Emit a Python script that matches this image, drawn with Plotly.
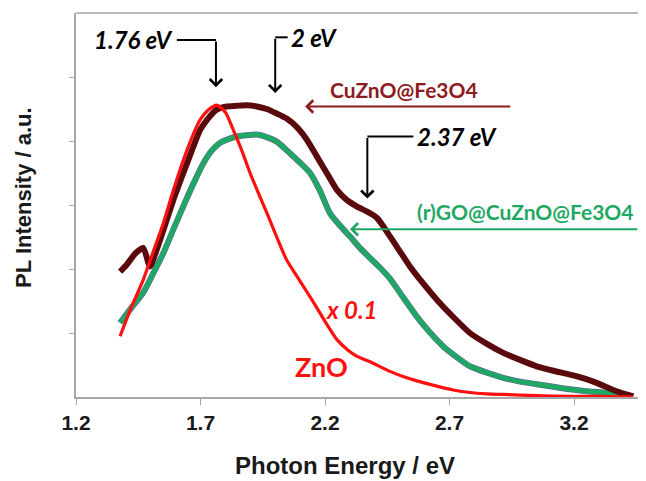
import plotly.graph_objects as go

# ---- data ----
energy_zno = [1.377, 1.42, 1.470, 1.510, 1.551, 1.590, 1.631, 1.665, 1.698, 1.730, 1.765, 1.800,
              1.832, 1.866, 1.899, 1.932, 1.966, 2.006, 2.046, 2.080, 2.113, 2.147, 2.180, 2.213,
              2.247, 2.290, 2.327, 2.381, 2.461, 2.513, 2.580, 2.649, 2.715, 2.782, 2.850,
              2.915, 3.050, 3.184, 3.300, 3.437]
zno = [0.95, 1.38, 1.83, 2.27, 2.72, 3.22, 3.70, 4.05, 4.33, 4.48, 4.56, 4.45,
       4.17, 3.85, 3.50, 3.19, 2.88, 2.50, 2.14, 1.93, 1.73, 1.52, 1.31, 1.10,
       0.90, 0.74, 0.64, 0.55, 0.40, 0.32, 0.24, 0.17, 0.11, 0.07, 0.05,
       0.04, 0.02, 0.01, 0.01, 0.0]

energy_cu = [1.377, 1.40, 1.44, 1.470, 1.497, 1.524, 1.551, 1.591, 1.631, 1.671, 1.698, 1.730,
             1.765, 1.805, 1.845, 1.885, 1.926, 1.966, 2.006, 2.046, 2.086, 2.127, 2.167,
             2.207, 2.247, 2.287, 2.327, 2.367, 2.408, 2.461, 2.500, 2.541, 2.595, 2.649,
             2.715, 2.782, 2.850, 2.916, 2.983, 3.050, 3.117, 3.184, 3.240, 3.291, 3.371, 3.438]
cu = [1.96, 2.05, 2.25, 2.33, 2.04, 2.30, 2.61, 3.08, 3.50, 3.91, 4.17, 4.35,
      4.49, 4.54, 4.55, 4.56, 4.54, 4.50, 4.43, 4.35, 4.22, 4.02, 3.76,
      3.50, 3.24, 3.08, 2.98, 2.90, 2.80, 2.51, 2.28, 2.04, 1.77, 1.52,
      1.25, 1.00, 0.83, 0.69, 0.58, 0.48, 0.41, 0.35, 0.29, 0.22, 0.09, 0.01]

energy_go = [1.377, 1.420, 1.470, 1.510, 1.551, 1.591, 1.631, 1.671, 1.711, 1.745, 1.778, 1.812,
             1.845, 1.885, 1.926, 1.966, 2.006, 2.059, 2.100, 2.140, 2.180, 2.220, 2.260,
             2.300, 2.340, 2.381, 2.421, 2.461, 2.515, 2.568, 2.621, 2.675, 2.730, 2.782,
             2.850, 2.916, 2.983, 3.050, 3.117, 3.184, 3.250, 3.318, 3.380, 3.425]
go_vals = [1.16, 1.38, 1.63, 1.93, 2.25, 2.62, 2.98, 3.33, 3.65, 3.85, 3.97, 4.03,
           4.07, 4.09, 4.10, 4.06, 3.99, 3.81, 3.66, 3.50, 3.22, 2.87, 2.68,
           2.51, 2.33, 2.17, 2.02, 1.85, 1.55, 1.26, 1.01, 0.79, 0.62, 0.48,
           0.38, 0.30, 0.24, 0.20, 0.16, 0.12, 0.09, 0.07, 0.04, 0.01]

x_ticks = [1.2, 1.7, 2.2, 2.7, 3.2]
y_ticks = [1, 2, 3, 4, 5]

BROWN = "#5a0a0c"
GREEN = "#1fa864"
RED = "#ff1010"
PURPLE = "#6f5aa8"

fig = go.Figure()
fig.add_trace(go.Scatter(x=energy_go, y=go_vals, mode="lines",
                         line=dict(color=PURPLE, width=6, shape="spline", smoothing=0.6),
                         showlegend=False, hoverinfo="skip"))
fig.add_trace(go.Scatter(x=energy_go, y=go_vals, mode="lines", name="(r)GO@CuZnO@Fe3O4",
                         line=dict(color=GREEN, width=5, shape="spline", smoothing=0.6)))
fig.add_trace(go.Scatter(x=energy_cu, y=cu, mode="lines", name="CuZnO@Fe3O4",
                         line=dict(color=BROWN, width=6, shape="spline", smoothing=0.6)))
fig.add_trace(go.Scatter(x=energy_zno, y=zno, mode="lines", name="ZnO",
                         line=dict(color=RED, width=3.2, shape="spline", smoothing=0.6)))

AX = "#a6a6a6"
# the page body adds an 8 px offset, so the figure is 8 px smaller than the window
fig.update_layout(
    width=638, height=473,
    margin=dict(l=68, r=0, t=5, b=84),
    paper_bgcolor="white", plot_bgcolor="white",
    showlegend=False,
    xaxis=dict(range=[1.2, 3.489], tickvals=x_ticks, ticktext=[f"{v:.1f}" for v in x_ticks],
               showline=True, linecolor=AX, linewidth=1.5, ticks="outside", ticklen=6,
               tickcolor=AX, showgrid=False, zeroline=False,
               tickfont=dict(family="Liberation Sans", size=21, color="#1a1a1a", weight="bold")),
    yaxis=dict(range=[0, 6], tickvals=y_ticks, showticklabels=False,
               showline=True, linecolor=AX, linewidth=1.5, ticks="outside", ticklen=5,
               tickcolor=AX, showgrid=False, zeroline=False),
)

# top border of plot area
fig.add_shape(type="line", xref="paper", yref="paper", x0=0, x1=1, y0=1, y1=1,
              line=dict(color=AX, width=1.5))

LBL = dict(family="Lato", weight="bold", style="italic", color="black", size=24)

def down_arrow(x, y_top, y_tip, color="black"):
    fig.add_annotation(x=x, y=y_tip, ax=x, ay=y_top, xref="x", yref="y",
                       axref="x", ayref="y", text="", showarrow=True, arrowhead=4,
                       arrowsize=1.2, arrowwidth=2, arrowcolor=color)

def hline(x0, x1, y, color="black"):
    fig.add_shape(type="line", xref="x", yref="y", x0=x0, x1=x1, y0=y, y1=y,
                  line=dict(color=color, width=2))

# 1.76 eV
hline(1.605, 1.762, 5.58)
down_arrow(1.762, 5.58, 4.84)
fig.add_annotation(x=1.598, y=5.58, xref="x", yref="y", text="1.76 eV", showarrow=False,
                   xanchor="right", yanchor="middle", font=LBL)
# 2 eV
hline(2.0, 2.05, 5.62)
down_arrow(2.0, 5.62, 4.75)
fig.add_annotation(x=2.055, y=5.62, xref="x", yref="y", text="2 eV", showarrow=False,
                   xanchor="left", yanchor="middle", font=LBL)
# 2.37 eV
hline(2.37, 2.555, 4.07)
down_arrow(2.37, 4.07, 3.1)
fig.add_annotation(x=2.563, y=4.07, xref="x", yref="y", text="2.37 eV", showarrow=False,
                   xanchor="left", yanchor="middle", font=LBL)

# CuZnO@Fe3O4 label + arrow
fig.add_annotation(x=2.12, y=4.54, ax=2.95, ay=4.54, xref="x", yref="y", axref="x", ayref="y",
                   text="", showarrow=True, arrowhead=4, arrowsize=1.2, arrowwidth=2,
                   arrowcolor="#8e1b1d")
fig.add_annotation(x=2.21, y=4.80, xref="x", yref="y", text="CuZnO@Fe3O4", showarrow=False,
                   xanchor="left", yanchor="middle",
                   font=dict(family="Lato", weight="bold", color="#8e1b1d", size=21))
# (r)GO label + arrow
fig.add_annotation(x=2.30, y=2.62, ax=3.46, ay=2.62, xref="x", yref="y", axref="x", ayref="y",
                   text="", showarrow=True, arrowhead=4, arrowsize=1.2, arrowwidth=2,
                   arrowcolor=GREEN)
fig.add_annotation(x=2.56, y=2.90, xref="x", yref="y", text="(r)GO@CuZnO@Fe3O4", showarrow=False,
                   xanchor="left", yanchor="middle",
                   font=dict(family="Lato", weight="bold", color=GREEN, size=21))
# x 0.1 and ZnO
fig.add_annotation(x=2.195, y=1.36, xref="x", yref="y", text="x 0.1", showarrow=False,
                   xanchor="left", yanchor="middle",
                   font=dict(family="Lato", weight="bold", style="italic", color=RED, size=24))
fig.add_annotation(x=2.07, y=0.48, xref="x", yref="y", text="ZnO", showarrow=False,
                   xanchor="left", yanchor="middle",
                   font=dict(family="Lato", weight="bold", color=RED, size=27))

# axis titles
fig.add_annotation(x=0.472, y=-0.178, xref="paper", yref="paper", text="Photon Energy / eV",
                   showarrow=False, xanchor="center", yanchor="middle",
                   font=dict(family="Liberation Sans", weight="bold", size=24, color="#1a1a1a"))
fig.add_annotation(x=-0.092, y=0.52, xref="paper", yref="paper", text="PL Intensity / a.u.",
                   showarrow=False, textangle=-90, xanchor="center", yanchor="middle",
                   font=dict(family="Liberation Sans", weight="bold", size=22, color="#1a1a1a"))

fig.write_html("out.html")
